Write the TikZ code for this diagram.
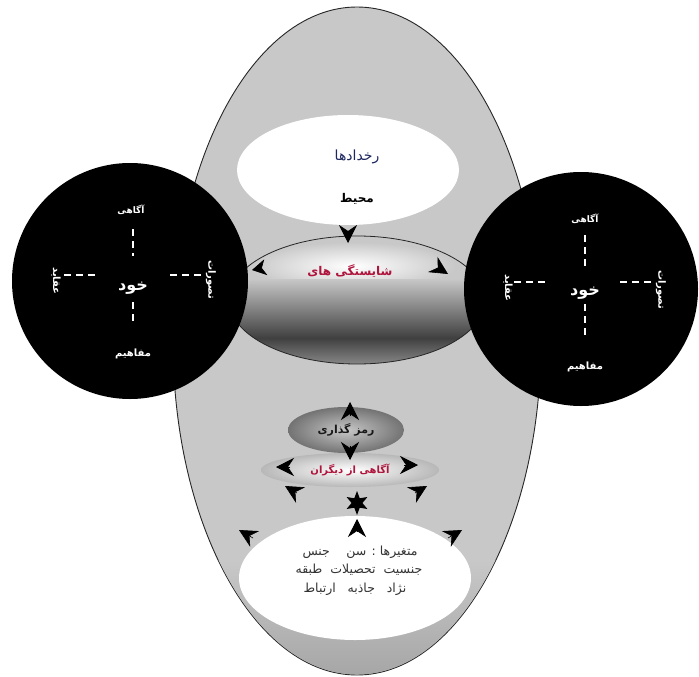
\documentclass[tikz,border=0pt]{standalone}
\usepackage{fontspec}
\usetikzlibrary{arrows.meta,shapes.geometric}
\newfontfamily\fa[Script=Arabic]{DejaVu Sans}
\TeXXeTstate=1
\definecolor{bggray}{RGB}{200,200,200}
\definecolor{navy}{RGB}{30,40,95}
\definecolor{crim}{RGB}{175,20,60}
\begin{document}
\begin{tikzpicture}[x=1pt,y=-1pt,
  arrw/.style={-{Stealth[length=18pt,width=18pt,inset=6pt]},line width=0.6pt},
  arrs/.style={-{Stealth[length=14pt,width=16pt,inset=4pt]},line width=0.6pt},
  wtxt/.style={text=white,font=\fa\bfseries\fontsize{10}{12}\selectfont,inner sep=1pt},
  wdash/.style={white,line width=1.6pt,dash pattern=on 7pt off 5pt},
  btxt/.style={text=black!80,font=\fa\fontsize{12.5}{14}\selectfont,inner sep=1pt},
  blk/.style={circle,fill=black,inner sep=0pt}]
\useasboundingbox (0,0) rectangle (699,677);
\fill[white] (0,0) rectangle (699,677);
% big ellipse
\node[ellipse,draw=black!85,line width=0.9pt,fill=bggray,minimum width=368pt,minimum height=668pt,inner sep=0pt] (big) at (357,341) {};
% bottom darker band
\begin{scope}
  \clip (357,341) ellipse (183.5 and 333.5);
  \shade[top color=bggray,bottom color=black!35] (170,560) rectangle (545,677);
\end{scope}
% top white ellipse
\node[ellipse,fill=white,minimum width=222pt,minimum height=110pt,inner sep=0pt] (env) at (348,170) {};
\node[text=navy,font=\fa\fontsize{14}{16}\selectfont] (evt) at (357,157) {\beginR رخدادها\endR};
\node[text=black,font=\fa\bfseries\fontsize{12}{14}\selectfont] (mhit) at (357,199) {\beginR محیط\endR};
% middle band
\begin{scope}
  \clip (357,300) ellipse (128 and 64);
  \fill[bggray] (220,230) rectangle (500,370);
  \shade[inner color=white,outer color=bggray] (352,266) ellipse (104 and 24);
  \shade[top color=black!22,bottom color=black!75] (220,279) rectangle (500,338);
  \shade[top color=black!75,bottom color=black!45] (220,338) rectangle (500,366);
\end{scope}
\draw[black!85,line width=0.8pt] (357,300) ellipse (128 and 64);
\node[text=crim,font=\fa\bfseries\fontsize{12}{14}\selectfont] (comp) at (350,271) {\beginR شایستگی های\endR};
% circles
\node[blk,minimum size=236pt] (lc) at (130,281) {};
\node[blk,minimum size=234pt] (rc) at (581,289) {};
% left circle content
\node[wtxt,font=\fa\bfseries\fontsize{9}{11}\selectfont] (la) at (131,210) {\beginR آگاهی\endR};
\node[wtxt,font=\fa\bfseries\fontsize{16}{18}\selectfont] (lk) at (133,288) {\beginR خود\endR};
\node[wtxt] (lm) at (133,354) {\beginR مفاهیم\endR};
\node[wtxt,rotate=-90] (lq) at (56,281) {\beginR عقاید\endR};
\node[wtxt,rotate=-90] (lt) at (211,280) {\beginR تصورات\endR};
\draw[wdash] (133,229) -- (133,256);
\draw[wdash] (133,302) -- (133,322);
\draw[wdash] (64,275) -- (96,275);
\draw[wdash] (170,275) -- (202,275);
% right circle content
\node[wtxt,font=\fa\bfseries\fontsize{9}{11}\selectfont] (ra) at (585,219) {\beginR آگاهی\endR};
\node[wtxt,font=\fa\bfseries\fontsize{16}{18}\selectfont] (rk) at (585,293) {\beginR خود\endR};
\node[wtxt] (rm) at (585,367) {\beginR مفاهیم\endR};
\node[wtxt,rotate=-90] (rq) at (508,288) {\beginR عقاید\endR};
\node[wtxt,rotate=-90] (rt) at (661,290) {\beginR تصورات\endR};
\draw[wdash] (585,235) -- (585,267);
\draw[wdash] (585,304) -- (585,335);
\draw[wdash] (514,282) -- (546,282);
\draw[wdash] (620,282) -- (652,282);
% arrows of the top part
\coordinate (t1) at (348,243);
\draw[arrw] (348,238) -- (t1);
\coordinate (t2) at (252,270);
\draw[arrs] (262,268) -- (t2);
\coordinate (t3) at (448,274);
\draw[arrw] (440,269) -- (t3);
% encoding ellipse
\node[ellipse,minimum width=116pt,minimum height=46pt,inner sep=0pt,inner color=black!22,outer color=black!55,
  text=black!90,font=\fa\bfseries\fontsize{11}{13}\selectfont] (enc) at (346,430) {\beginR رمز گذاری\endR};
\node[ellipse,minimum width=178pt,minimum height=34pt,inner sep=0pt,inner color=white,outer color=black!28,
  text=crim,font=\fa\bfseries\fontsize{10}{12}\selectfont] (aw) at (350,470) {\beginR آگاهی از دیگران\endR};
\coordinate (a1) at (350,402);
\draw[arrw] (350,416) -- (a1);
\coordinate (a2) at (350,460);
\draw[arrw] (350,446) -- (a2);
\coordinate (a3) at (276,467);
\draw[arrw] (290,467) -- (a3);
\coordinate (a4) at (418,465);
\draw[arrw] (404,465) -- (a4);
\coordinate (a5) at (285,486);
\draw[arrw] (297,493) -- (a5);
\coordinate (a6) at (427,486);
\draw[arrw] (415,493) -- (a6);
% star
\node[star,star points=6,star point ratio=2.2,fill=black,minimum size=24pt,inner sep=0pt,rotate=0] (st) at (357,503) {};
% bottom ellipse
\node[ellipse,fill=white,minimum width=232pt,minimum height=124pt,inner sep=0pt] (var) at (355,578) {};
\coordinate (b1) at (357,519);
\draw[arrw] (357,531) -- (b1);
\coordinate (b2) at (239,530);
\draw[arrw] (253,538) -- (b2);
\coordinate (b3) at (462,530);
\draw[arrw] (448,538) -- (b3);
\node[btxt] (v1) at (360,552) {\beginR متغیرها : سن \quad جنس\endR};
\node[btxt] (v2) at (359,570) {\beginR جنسیت\ \ تحصیلات\ \ طبقه\endR};
\node[btxt] (v3) at (355,589) {\beginR نژاد\ \ \ جاذبه\ \ \ ارتباط\endR};
\end{tikzpicture}
\end{document}
